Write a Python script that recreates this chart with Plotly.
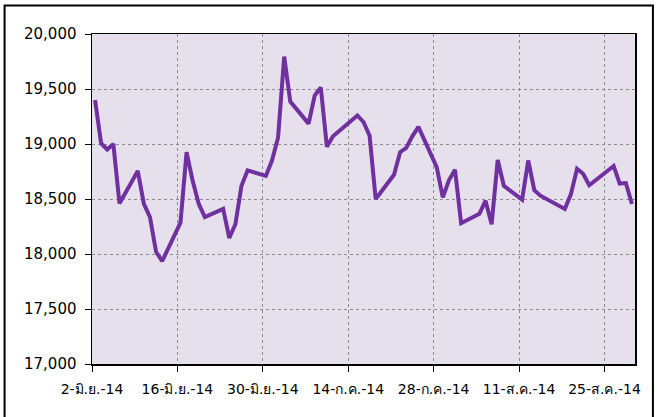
import pandas as pd
import plotly.graph_objects as go

dates = [
    "2014-06-02", "2014-06-03", "2014-06-04", "2014-06-05", "2014-06-06",
    "2014-06-09", "2014-06-10", "2014-06-11", "2014-06-12", "2014-06-13",
    "2014-06-16", "2014-06-17", "2014-06-18", "2014-06-19", "2014-06-20",
    "2014-06-23", "2014-06-24", "2014-06-25", "2014-06-26", "2014-06-27",
    "2014-06-30", "2014-07-01", "2014-07-02", "2014-07-03", "2014-07-04",
    "2014-07-07", "2014-07-08", "2014-07-09", "2014-07-10", "2014-07-11",
    "2014-07-15", "2014-07-16", "2014-07-17", "2014-07-18",
    "2014-07-21", "2014-07-22", "2014-07-23", "2014-07-24", "2014-07-25",
    "2014-07-28", "2014-07-29", "2014-07-30", "2014-07-31", "2014-08-01",
    "2014-08-04", "2014-08-05", "2014-08-06", "2014-08-07", "2014-08-08",
    "2014-08-11", "2014-08-12", "2014-08-13", "2014-08-14",
    "2014-08-18", "2014-08-19", "2014-08-20", "2014-08-21", "2014-08-22",
    "2014-08-26", "2014-08-27", "2014-08-28", "2014-08-29",
]
values = [
    19400, 19005, 18950, 19000, 18460,
    18755, 18455, 18335, 18020, 17935,
    18285, 18925, 18665, 18455, 18335,
    18410, 18145, 18270, 18620, 18760,
    18710, 18850, 19060, 19795, 19385,
    19185, 19440, 19515, 18975, 19070,
    19260, 19200, 19075, 18500,
    18720, 18925, 18965, 19070, 19155,
    18790, 18515, 18670, 18765, 18280,
    18365, 18485, 18270, 18855, 18620,
    18495, 18850, 18580, 18530,
    18410, 18545, 18775, 18730, 18625,
    18800, 18640, 18645, 18455,
]
tick_dates = ["2014-06-02", "2014-06-16", "2014-06-30", "2014-07-14",
              "2014-07-28", "2014-08-11", "2014-08-25"]
tick_labels = ["2-มิ.ย.-14", "16-มิ.ย.-14", "30-มิ.ย.-14", "14-ก.ค.-14",
               "28-ก.ค.-14", "11-ส.ค.-14", "25-ส.ค.-14"]
y_ticks = [17000, 17500, 18000, 18500, 19000, 19500, 20000]

# points sit in the middle of each day on the date axis
x = pd.to_datetime(dates) + pd.Timedelta(hours=12)

fig = go.Figure()
fig.add_trace(go.Scatter(
    x=x, y=values, mode="lines",
    line=dict(color="#7030A0", width=4),
    hoverinfo="skip", showlegend=False,
))

font = dict(family="DejaVu Sans", size=15, color="#000000")

fig.update_layout(
    width=658, height=417,
    margin=dict(l=92, r=23, t=34, b=53, autoexpand=False),
    paper_bgcolor="#FFFFFF",
    plot_bgcolor="#E6E0EC",
    font=font,
    showlegend=False,
    xaxis=dict(
        type="date",
        range=["2014-06-02", "2014-08-30"],
        tickvals=pd.to_datetime(tick_dates),
        ticktext=tick_labels,
        tickfont=dict(family="DejaVu Sans", size=14),
        ticks="outside", ticklen=6, tickcolor="#000000", tickwidth=1,
        ticklabelstandoff=6,
        showgrid=True, gridcolor="#8C8C8C", griddash="dot", gridwidth=1,
        showline=True, linecolor="#000000", linewidth=1.5, mirror=True,
        zeroline=False, automargin=False,
    ),
    yaxis=dict(
        range=[17000, 20000],
        tickvals=y_ticks,
        tickformat=",d",
        ticks="outside", ticklen=6, tickcolor="#000000", tickwidth=1,
        ticklabelstandoff=5,
        showgrid=True, gridcolor="#8C8C8C", griddash="dot", gridwidth=1,
        showline=True, linecolor="#000000", linewidth=1.5, mirror=True,
        zeroline=False, automargin=False,
    ),
    shapes=[dict(
        type="rect", xref="paper", yref="paper",
        x0=-0.161, x1=1.033, y0=-0.175, y1=1.086,
        line=dict(color="#000000", width=2), fillcolor="rgba(0,0,0,0)",
        layer="above",
    )],
)

fig.write_html(
    "out.html",
    config={"displayModeBar": False, "staticPlot": True},
    post_script="document.body.style.margin='0';document.body.style.overflow='hidden';",
)
